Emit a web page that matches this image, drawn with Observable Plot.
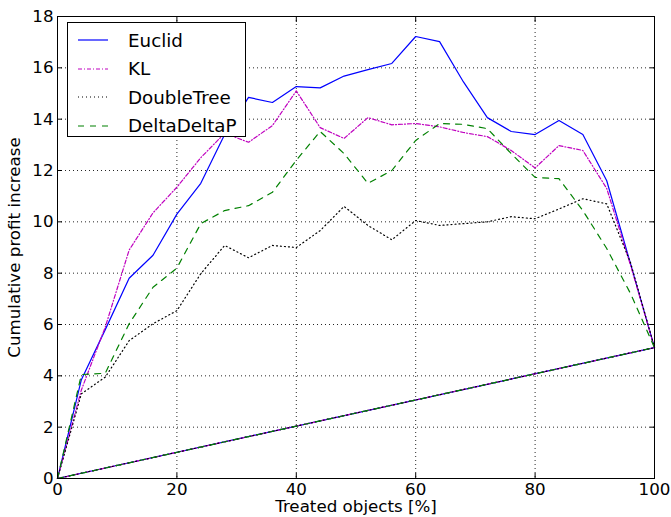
<!DOCTYPE html>
<html>
<head>
<meta charset="utf-8">
<script src="https://cdn.jsdelivr.net/npm/d3@7"></script>
<script src="https://cdn.jsdelivr.net/npm/@observablehq/plot@0.6"></script>
<style>
  html, body { margin: 0; padding: 0; background: #fff; }
  #wrap { position: relative; width: 671px; height: 517px; font-family: "DejaVu Sans", sans-serif; }
  #legend { position: absolute; left: 67px; top: 22px; width: 177px; height: 113px; border: 1px solid #000; background: #fff; }
  .item { position: absolute; left: 0; height: 22px; display: flex; align-items: center; }
  .item svg { margin-left: 10px; }
  .item span { margin-left: 20px; font-size: 18.3px; color: #000; }
</style>
</head>
<body>
<div id="wrap"><div id="chart"></div><div id="legend"></div></div>
<script>
const treated = [0,4,8,12,16,20,24,28,32,36,40,44,48,52,56,60,64,68,72,76,80,84,88,92,96,100];
const euclid = [0,3.85,5.8,7.8,8.7,10.3,11.5,13.4,14.85,14.65,15.27,15.22,15.68,15.93,16.17,17.22,17.02,15.45,14.06,13.52,13.4,13.95,13.4,11.6,8.35,5.1];
const kl = [0,3.45,5.9,8.9,10.35,11.35,12.5,13.45,13.1,13.75,15.1,13.67,13.25,14.06,13.78,13.83,13.7,13.48,13.32,12.78,12.1,12.97,12.78,11.3,8.3,5.1];
const doubleTree = [0,3.3,3.95,5.37,6.03,6.54,7.98,9.08,8.6,9.08,9.0,9.66,10.6,9.86,9.3,10.05,9.86,9.93,10.0,10.2,10.12,10.5,10.9,10.7,8.4,5.1];
const deltaDeltaP = [0,4.05,4.1,6.03,7.45,8.2,9.93,10.44,10.63,11.15,12.4,13.52,12.66,11.5,12.0,13.17,13.83,13.8,13.63,12.66,11.73,11.68,10.44,8.96,7.2,5.1];
const baselineX = [0,100];
const baselineY = [0,5.1];
const seriesNames = ["Euclid","KL","DoubleTree","DeltaDeltaP"];
const seriesValues = [euclid, kl, doubleTree, deltaDeltaP];
const xTicks = [0,20,40,60,80,100];
const yTicks = [0,2,4,6,8,10,12,14,16,18];

const styles = {
  Euclid: {stroke: "#0000ff", dash: null},
  KL: {stroke: "#bf00bf", dash: "4,2,1,2"},
  DoubleTree: {stroke: "#000000", dash: "1,3"},
  DeltaDeltaP: {stroke: "#008000", dash: "6,6"}
};

const marks = [];
marks.push(Plot.ruleX(xTicks.slice(1,-1), {stroke: "#000", strokeOpacity: 0.85, strokeWidth: 1, strokeDasharray: "1,3"}));
marks.push(Plot.ruleY(yTicks.slice(1,-1), {stroke: "#000", strokeOpacity: 0.85, strokeWidth: 1, strokeDasharray: "1,3"}));

seriesNames.forEach((name, i) => {
  const rows = treated.map((t, j) => ({x: t, y: seriesValues[i][j]}));
  const base = baselineX.map((t, j) => ({x: t, y: baselineY[j]}));
  const s = styles[name];
  const opts = {x: "x", y: "y", stroke: s.stroke, strokeWidth: 1.2};
  if (s.dash) opts.strokeDasharray = s.dash;
  marks.push(Plot.line(rows, opts));
  marks.push(Plot.line(base, opts));
});

marks.push(Plot.frame({stroke: "#000", strokeWidth: 1}));
marks.push(Plot.axisX({ticks: xTicks, tickSize: -5, tickPadding: 10, fontSize: 16.7, label: "Treated objects [%]", labelAnchor: "center", labelArrow: "none", labelOffset: 33}));
marks.push(Plot.axisX({anchor: "top", ticks: xTicks, tickSize: -5, tickFormat: () => "", label: null}));
marks.push(Plot.axisY({ticks: yTicks, tickSize: -5, tickPadding: 9, fontSize: 16.7, label: "Cumulative profit increase", labelAnchor: "center", labelArrow: "none", labelOffset: 49}));
marks.push(Plot.axisY({anchor: "right", ticks: yTicks, tickSize: -5, tickFormat: () => "", label: null}));

const chart = Plot.plot({
  width: 671,
  height: 517,
  marginLeft: 57,
  marginRight: 17,
  marginTop: 16,
  marginBottom: 39,
  style: {fontFamily: "DejaVu Sans, sans-serif", fontSize: "16.7px", color: "#000", background: "#fff"},
  x: {domain: [0,100]},
  y: {domain: [0,18]},
  marks
});
document.getElementById("chart").appendChild(chart);

const legend = document.getElementById("legend");
seriesNames.forEach((name, i) => {
  const s = styles[name];
  const div = document.createElement("div");
  div.className = "item";
  div.style.top = (6 + i * 28.5) + "px";
  div.innerHTML = `<svg width="30" height="6"><line x1="0" y1="3" x2="30" y2="3" stroke="${s.stroke}" stroke-width="1.2" ${s.dash ? `stroke-dasharray="${s.dash}"` : ""}/></svg><span>${name}</span>`;
  legend.appendChild(div);
});
</script>
</body>
</html>
